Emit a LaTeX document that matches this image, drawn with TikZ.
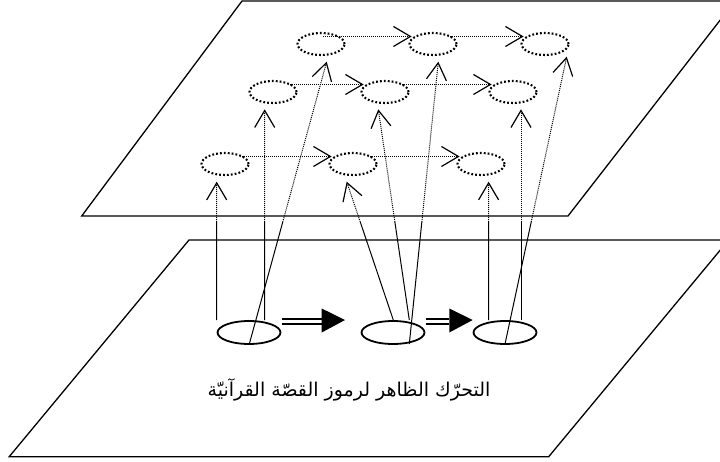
\documentclass[tikz,border=0pt]{standalone}
\usepackage{fontspec}
\newfontfamily\arabicfont[Script=Arabic]{DejaVu Sans}
\TeXXeTstate=1
\usetikzlibrary{shapes.geometric,arrows.meta,calc}
\begin{document}
\begin{tikzpicture}[x=1pt,y=-1pt,
  plane/.style={draw=black,line width=1.3pt,line join=miter},
  dotell/.style={ellipse,draw=black,line width=2.1pt,dash pattern=on 1.8pt off 2.1pt,minimum width=47pt,minimum height=22pt,inner sep=0pt},
  solell/.style={ellipse,draw=black,line width=1.8pt,minimum width=63pt,minimum height=23pt,inner sep=0pt},
  vtip/.style={-{Straight Barb[length=17pt,width=20pt,line width=1.2pt]}},
  hdot/.style={line width=1pt,dash pattern=on 1pt off 1pt,vtip},
  solidln/.style={line width=1pt},
  bigarrow/.style={line width=1.7pt}
]
\useasboundingbox (0,0) rectangle (720,461);
% planes
\draw[plane] (242,1) -- (735,1) -- (568,216) -- (81.7,216) -- cycle;
\draw[plane] (189,240) -- (728.6,240) -- (548.7,456.7) -- (9.2,456.7) -- cycle;
% upper ellipses
\node[dotell] (E1) at (321,44) {};
\node[dotell] (E2) at (433,44) {};
\node[dotell] (E3) at (545,44) {};
\node[dotell] (E4) at (273,92) {};
\node[dotell] (E5) at (385,92) {};
\node[dotell] (E6) at (513,92) {};
\node[dotell] (E7) at (225,164) {};
\node[dotell] (E8) at (353,164) {};
\node[dotell] (E9) at (481,164) {};
% lower ellipses
\node[solell] (L1) at (249,332.5) {};
\node[solell] (L2) at (393,332.5) {};
\node[solell] (L3) at (505,332.5) {};
% horizontal dotted arrows
\draw[hdot] ($(E1.north east)+(-15,1)$) -- ($(E2.north west)+(-4,1)$);
\draw[hdot] ($(E2.north east)+(0,1)$) -- ($(E3.north west)+(-4,1)$);
\draw[hdot] ($(E4.north east)+(0,1)$) -- ($(E5.north west)+(-4,1)$);
\draw[hdot] ($(E5.north east)+(0,1)$) -- ($(E6.north west)+(-4,1)$);
\draw[hdot] ($(E7.north east)+(0,1)$) -- ($(E8.north west)+(-4,1)$);
\draw[hdot] ($(E8.north east)+(0,1)$) -- ($(E9.north west)+(-4,1)$);
% base and tip coordinates of the vertical connectors
\coordinate (b1) at (216.7,320);   \coordinate (t1) at (216.7,181.7);
\coordinate (b2) at (264.7,320);   \coordinate (t2) at (264.7,109.3);
\coordinate (b3) at (249.3,344);   \coordinate (t3) at (326.7,61.7);
\coordinate (b4) at (393.3,320);   \coordinate (t4) at (346.7,181.7);
\coordinate (b5) at (409.3,320);   \coordinate (t5) at (378.3,109.3);
\coordinate (b6) at (409.3,344);   \coordinate (t6) at (438.3,61.7);
\coordinate (b7) at (488.6,320);   \coordinate (t7) at (488.6,181.7);
\coordinate (b8) at (521,320);     \coordinate (t8) at (521,109.3);
\coordinate (b9) at (505,344);     \coordinate (t9) at (566.7,56.7);
\foreach \i/\f in {1/0.710,2/0.464,3/0.432,4/0.709,5/0.465,6/0.432,7/0.709,8/0.465,9/0.425}{
  \coordinate (m\i) at ($(b\i)!\f!(t\i)$);
  \draw[solidln] (b\i) -- (m\i);
  \draw[hdot] (m\i) -- (t\i);
}
% thick double arrows
\coordinate (a1s) at (282,321.5); \coordinate (a1m) at (321.7,321.5); \coordinate (a1t) at (345,320);
\coordinate (a2s) at (425.7,321.5); \coordinate (a2m) at (449.3,321.5); \coordinate (a2t) at (472.7,320);
\foreach \s/\m/\t in {a1s/a1m/a1t,a2s/a2m/a2t}{
  \draw[bigarrow] ($(\s)+(0,-2.4)$) -- ($(\m)+(0,-2.4)$);
  \draw[bigarrow] ($(\s)+(0,2.4)$) -- ($(\m)+(0,2.4)$);
  \fill[black] ($(\m)+(0,-13)$) -- (\t) -- ($(\m)+(0,11)$) -- cycle;
}
% caption
\node[inner sep=0pt] (cap) at (349,390) {\arabicfont\fontsize{19pt}{22pt}\selectfont\beginR التحرّك الظاهر لرموز القصّة القرآنيّة\endR};
\end{tikzpicture}
\end{document}
